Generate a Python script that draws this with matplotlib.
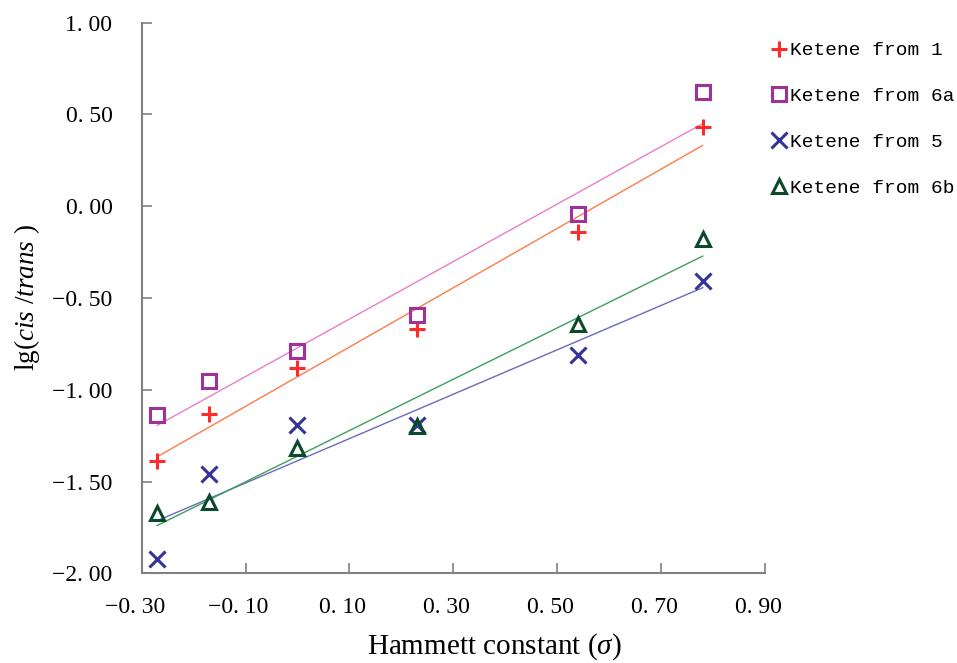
import numpy as np
import matplotlib
matplotlib.use("Agg")
import matplotlib.pyplot as plt
import matplotlib.transforms as mtransforms
from matplotlib.ticker import FuncFormatter, FixedLocator

plt.rcParams['mathtext.fontset'] = 'custom'
plt.rcParams['mathtext.rm'] = 'Liberation Serif'
plt.rcParams['mathtext.it'] = 'Liberation Serif:italic'

sigma = [-0.27, -0.17, 0.0, 0.23, 0.54, 0.78]
ketene_1 = [-1.39, -1.13, -0.88, -0.67, -0.14, 0.43]
ketene_6a = [-1.14, -0.95, -0.79, -0.59, -0.04, 0.62]
ketene_5 = [-1.92, -1.46, -1.19, -1.19, -0.81, -0.41]
ketene_6b = [-1.67, -1.61, -1.32, -1.20, -0.64, -0.18]

labels = ["Ketene from 1", "Ketene from 6a", "Ketene from 5", "Ketene from 6b"]
xticks = [-0.30, -0.10, 0.10, 0.30, 0.50, 0.70, 0.90]
yticks = [-2.0, -1.5, -1.0, -0.5, 0.0, 0.5, 1.0]

series = [ketene_1, ketene_6a, ketene_5, ketene_6b]
markers = ['+', 's', 'x', '^']
mcolors = ['#ff2a2a', '#a0309a', '#33339a', '#0a4a2a']
lcolors = ['#ff7a4a', '#ea7ec8', '#6a6ac0', '#3e9e5e']

fig = plt.figure(figsize=(9.57, 6.63), dpi=100)
ax = fig.add_axes([0.148, 0.1353, 0.6514, 0.8305])

x = np.array(sigma)
handles = []
for ys, m, mc, lc, lab in zip(series, markers, mcolors, lcolors, labels):
    k, b = np.polyfit(x, np.array(ys), 1)
    xs = np.array([x.min(), x.max()])
    ax.plot(xs, k * xs + b, color=lc, lw=1.0, zorder=2)
    if m in ('+', 'x'):
        h, = ax.plot(x, ys, linestyle='none', marker=m, ms=11, mew=2.2,
                     color=mc, label=lab, zorder=3)
    else:
        h, = ax.plot(x, ys, linestyle='none', marker=m, ms=10, mew=2.2,
                     markerfacecolor='none', markeredgecolor=mc, label=lab, zorder=3)
    handles.append(h)

ax.set_xlim(-0.30, 0.90)
ax.set_ylim(-2.0, 1.0)
ax.xaxis.set_major_locator(FixedLocator(xticks))
ax.yaxis.set_major_locator(FixedLocator(yticks))

def fmt(v, pos):
    s = f"{abs(v):.2f}".replace('.', '. ')
    return ('\u2212' + s) if v < -1e-9 else s

ax.xaxis.set_major_formatter(FuncFormatter(fmt))
ax.yaxis.set_major_formatter(FuncFormatter(fmt))

for side in ('top', 'right'):
    ax.spines[side].set_visible(False)
for side in ('left', 'bottom'):
    ax.spines[side].set_color('#808080')
    ax.spines[side].set_linewidth(1.5)
ax.tick_params(direction='in', length=7, width=1.2, color='#808080',
               labelsize=17)
ax.tick_params(axis='x', pad=17)
ax.tick_params(axis='y', pad=21)
offset = mtransforms.ScaledTranslation(-7 / 100, 0, fig.dpi_scale_trans)
for lbl in ax.get_xticklabels():
    lbl.set_family('Liberation Serif')
    lbl.set_transform(lbl.get_transform() + offset)
for lbl in ax.get_yticklabels():
    lbl.set_family('Liberation Serif')

ax.set_xlabel(r'Hammett constant ($\sigma$)', fontsize=21,
              family='Liberation Serif')
ax.xaxis.set_label_coords(0.565, -0.105)
ax.set_ylabel(r'lg($\mathit{cis}$ /$\mathit{trans}$ )', fontsize=19.5,
              family='Liberation Serif', labelpad=7)

leg = fig.legend(handles=handles, labels=labels, loc='upper left',
                 bbox_to_anchor=(0.806, 0.937), frameon=False,
                 prop={'family': 'Liberation Mono', 'size': 14},
                 handlelength=0.8, handletextpad=0.15, labelspacing=1.45,
                 borderaxespad=0, borderpad=0)

fig.savefig('out.png', dpi=100)
